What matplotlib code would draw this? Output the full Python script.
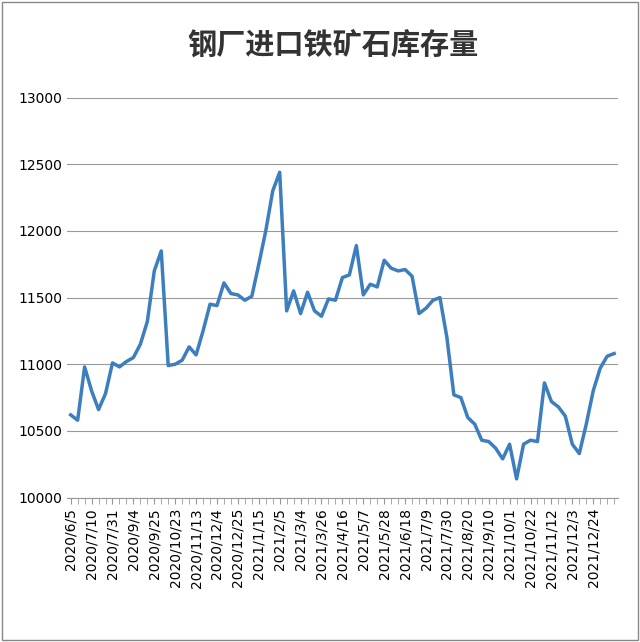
import matplotlib.pyplot as plt
import numpy as np

plt.rcParams['font.family'] = ['DejaVu Sans', 'Noto Sans CJK SC']

# weekly stock values (10k tonnes)
stock = [10620, 10580, 10980, 10800, 10660, 10780, 11010, 10980, 11020, 11050,
         11150, 11320, 11700, 11850, 10990, 11000, 11030, 11130, 11070, 11250,
         11450, 11440, 11610, 11530, 11520, 11480, 11510, 11750, 12000, 12300,
         12440, 11400, 11550, 11380, 11540, 11400, 11360, 11490, 11480, 11650,
         11670, 11890, 11520, 11600, 11580, 11780, 11720, 11700, 11710, 11660,
         11380, 11420, 11480, 11500, 11200, 10770, 10750, 10600, 10550, 10430,
         10420, 10370, 10290, 10400, 10140, 10400, 10430, 10420, 10860, 10720,
         10680, 10610, 10400, 10330, 10550, 10800, 10970, 11060, 11080]
tick_labels = ['2020/6/5', '2020/7/10', '2020/7/31', '2020/9/4', '2020/9/25',
               '2020/10/23', '2020/11/13', '2020/12/4', '2020/12/25', '2021/1/15',
               '2021/2/5', '2021/3/4', '2021/3/26', '2021/4/16', '2021/5/7',
               '2021/5/28', '2021/6/18', '2021/7/9', '2021/7/30', '2021/8/20',
               '2021/9/10', '2021/10/1', '2021/10/22', '2021/11/12', '2021/12/3',
               '2021/12/24']

fig = plt.figure(figsize=(6.4, 6.42), dpi=100)
fig.patches.append(plt.Rectangle((0.003, 0.003), 0.994, 0.994, transform=fig.transFigure,
                                 fill=False, edgecolor='#888888', lw=1))
ax = fig.add_axes([0.105, 0.225, 0.86, 0.623])
x = np.arange(len(stock))
ax.plot(x, stock, color='#3d7ebf', lw=2.5)
ax.set_ylim(10000, 13000)
ax.set_yticks(range(10000, 13001, 500))
ax.set_xlim(-0.5, len(stock) - 0.5)
ax.set_xticks(x[::3][:len(tick_labels)])
ax.set_xticklabels(tick_labels, rotation=90, fontsize=10)
ax.set_xticks(x, minor=True)
ax.grid(axis='y', color='#999999', lw=0.8)
for s in ['top', 'right', 'left']:
    ax.spines[s].set_visible(False)
ax.spines['bottom'].set_color('#999999')
ax.tick_params(axis='y', length=0, labelsize=10)
ax.tick_params(axis='x', which='both', length=4, color='#999999')
fig.text(0.52, 0.93, '钢厂进口铁矿石库存量', ha='center', va='center',
         fontsize=21, fontweight='bold', color='#333333',
         family=['Noto Sans CJK SC', 'DejaVu Sans'])
fig.savefig('out.png')
